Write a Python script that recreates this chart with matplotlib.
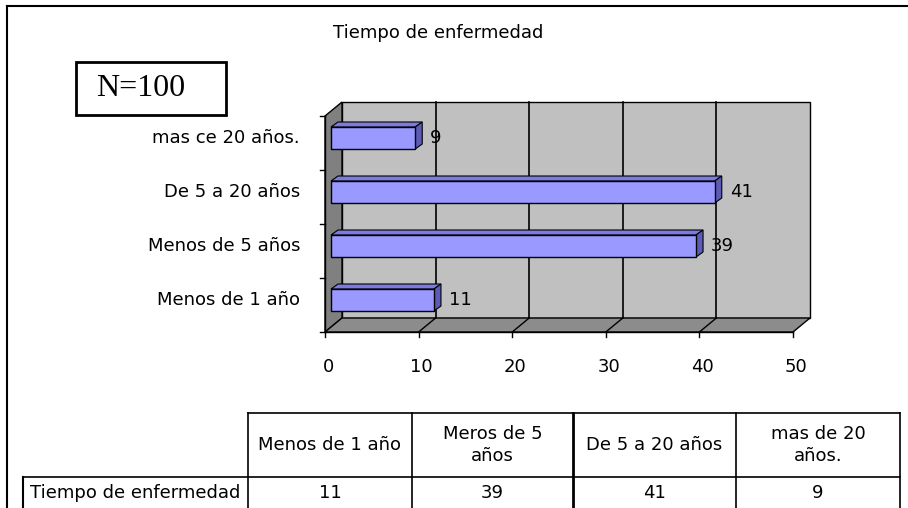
import matplotlib
matplotlib.use("Agg")
import matplotlib.pyplot as plt
from matplotlib.patches import Polygon, Rectangle

# Datos: tiempo de enfermedad (N=100)
categorias = ["Menos de 1 año", "Menos de 5 años", "De 5 a 20 años", "mas ce 20 años."]
valores = [11, 39, 41, 9]
ticks_x = [0, 10, 20, 30, 40, 50]
cabeceras = ["Menos de 1 año", "Meros de 5\naños", "De 5 a 20 años", "mas de 20\naños."]
fila_tabla = "Tiempo de enfermedad"
titulo = "Tiempo de enfermedad"

W, H = 908, 508
FUENTE = "DejaVu Sans"
TAM = 13

fig = plt.figure(figsize=(W / 100, H / 100), dpi=100)
fig.patch.set_facecolor("white")

# Capa de fondo en pixeles: marco, recuadro N, titulo y tabla
bg = fig.add_axes([0, 0, 1, 1])
bg.set_xlim(0, W)
bg.set_ylim(H, 0)
bg.axis("off")

# Area del grafico de barras (plano frontal)
x0, y0, ancho, alto = 325, 332, 468, 216
ax = fig.add_axes([x0 / W, (H - y0) / H, ancho / W, alto / H])
xmax = ticks_x[-1]
nc = len(categorias)
ax.set_xlim(0, xmax)
ax.set_ylim(0, nc)
ax.axis("off")

ppx = ancho / xmax   # pixeles por unidad en x
ppy = alto / nc      # pixeles por categoria

# profundidad del efecto 3D (en unidades de datos)
dx, dy = 17 / ppx, 14 / ppy
fx, fy = 6 / ppx, 5 / ppy      # cara frontal de las barras
bx, by = 13 / ppx, 10 / ppy    # cara trasera de las barras

# paredes
ax.add_patch(Rectangle((dx, dy), xmax, nc, fc="#c0c0c0", ec="black", lw=1,
                       clip_on=False, zorder=1))
ax.add_patch(Polygon([(0, 0), (0, nc), (dx, nc + dy), (dx, dy)], closed=True,
                     fc="#808080", ec="black", lw=1, clip_on=False, zorder=2))
ax.add_patch(Polygon([(0, 0), (xmax, 0), (xmax + dx, dy), (dx, dy)], closed=True,
                     fc="#8c8c8c", ec="black", lw=1, clip_on=False, zorder=2))

# lineas de division
for v in ticks_x[1:-1]:
    ax.plot([v + dx, v + dx], [dy, nc + dy], color="black", lw=1.2,
            clip_on=False, zorder=1.5)
    ax.plot([v, v + dx], [0, dy], color="black", lw=1, clip_on=False, zorder=2.5)

# ejes frontales y marcas
ax.plot([0, 0], [0, nc], color="black", lw=1, clip_on=False, zorder=3)
ax.plot([0, xmax], [0, 0], color="black", lw=1, clip_on=False, zorder=3)
for k in range(nc + 1):
    ax.plot([-5 / ppx, 0], [k, k], color="black", lw=1, clip_on=False, zorder=3)
for v in ticks_x:
    ax.plot([v, v], [-5 / ppy, 0], color="black", lw=1, clip_on=False, zorder=3)
    ax.text(v + 3 / ppx, -35 / ppy, str(v), ha="center", va="center",
            family=FUENTE, fontsize=TAM, color="black")

# barras 3D
h = 22 / ppy
for i, (cat, v) in enumerate(zip(categorias, valores)):
    yc = i + 0.5
    ax.add_patch(Polygon([(fx, yc + h / 2 + fy), (fx + v, yc + h / 2 + fy),
                          (bx + v, yc + h / 2 + by), (bx, yc + h / 2 + by)],
                         closed=True, fc="#7b7be0", ec="black", lw=0.8,
                         clip_on=False, zorder=4))
    ax.add_patch(Polygon([(fx + v, yc - h / 2 + fy), (fx + v, yc + h / 2 + fy),
                          (bx + v, yc + h / 2 + by), (bx + v, yc - h / 2 + by)],
                         closed=True, fc="#5c5cb8", ec="black", lw=0.8,
                         clip_on=False, zorder=4))
    ax.add_patch(Rectangle((fx, yc - h / 2 + fy), v, h, fc="#9999ff",
                           ec="black", lw=1, clip_on=False, zorder=5))
    ax.text(v + fx + 15 / ppx, yc + fy, str(v), ha="left", va="center",
            family=FUENTE, fontsize=TAM, color="black", zorder=6)
    ax.text(-25 / ppx, yc + fy, cat, ha="right", va="center",
            family=FUENTE, fontsize=TAM, color="black")

# marco exterior
bg.plot([7, W], [6, 6], color="black", lw=1.5)
bg.plot([7, 7], [6, H], color="black", lw=1.5)

# titulo y recuadro N
bg.text(438, 33, titulo, ha="center", va="center", family=FUENTE,
        fontsize=TAM, color="black")
bg.add_patch(Rectangle((76, 62), 150, 53, fill=False, ec="black", lw=2))
bg.text(96, 89, "N=100", ha="left", va="center", family="Liberation Serif",
        fontsize=23, color="black")

# tabla de datos
cols = [248, 412, 573, 736, 900]
fila_sup, fila_div = 413, 477
bg.plot([cols[0], cols[-1]], [fila_sup, fila_sup], color="black", lw=1.2)
bg.plot([23, cols[-1]], [fila_div, fila_div], color="black", lw=1.2)
bg.plot([23, 23], [fila_div, H], color="black", lw=1.5)
for j, c in enumerate(cols):
    bg.plot([c, c], [fila_sup, H], color="black", lw=2 if j == 2 else 1.2)
for j, (cab, v) in enumerate(zip(cabeceras, valores)):
    cx = (cols[j] + cols[j + 1]) / 2
    bg.text(cx, (fila_sup + fila_div) / 2, cab, ha="center", va="center",
            family=FUENTE, fontsize=TAM, color="black", linespacing=1.25)
    bg.text(cx, 493, str(v), ha="center", va="center", family=FUENTE,
            fontsize=TAM, color="black")
bg.text(30, 493, fila_tabla, ha="left", va="center", family=FUENTE,
        fontsize=TAM, color="black")

fig.savefig("out.png", dpi=100, facecolor="white")
